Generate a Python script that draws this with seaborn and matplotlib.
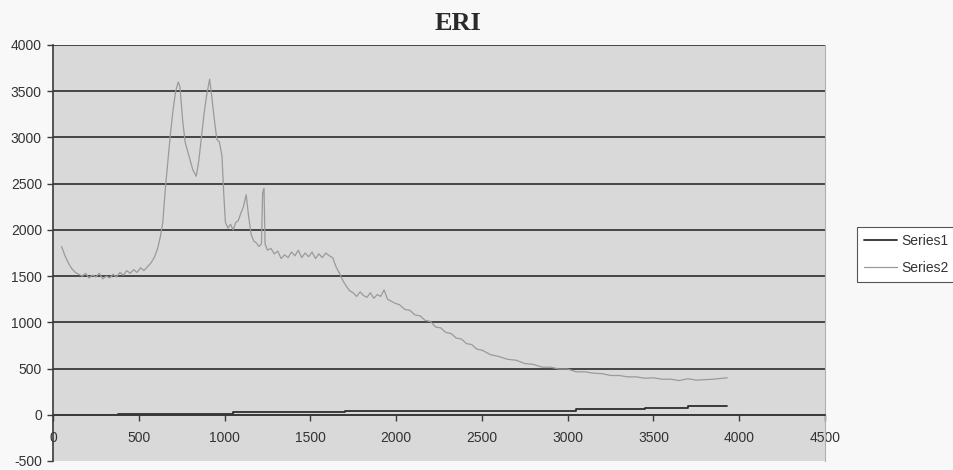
import matplotlib
matplotlib.use("Agg")
import matplotlib.pyplot as plt
import seaborn as sns
import pandas as pd

# ---- data ----
title = "ERI"
series_names = ["Series1", "Series2"]

s1_x = [380, 1050, 1700, 3050, 3450, 3700, 3930]
s1_y = [10, 25, 45, 60, 70, 100, 100]

s2_x = [50, 70, 90, 110, 130, 150, 170, 190, 210, 230, 250, 270, 290, 310, 330,
        350, 370, 390, 410, 430, 450, 470, 490, 510, 530, 550, 570, 590, 610, 625,
        640, 655, 670, 685, 700, 715, 730, 740, 755, 770, 785, 800, 815, 835, 850,
        865, 880, 895, 913, 925, 940, 955, 970, 985, 995, 1005, 1020, 1035, 1050,
        1065, 1080, 1095, 1110, 1126, 1140, 1155, 1170, 1185, 1200, 1215, 1222,
        1230, 1236, 1250, 1270, 1290, 1310, 1330, 1350, 1370, 1390, 1410, 1430,
        1450, 1470, 1490, 1510, 1530, 1550, 1570, 1590, 1610, 1630, 1650, 1670,
        1690, 1710, 1730, 1750, 1770, 1790, 1810, 1830, 1850, 1870, 1890, 1910,
        1930, 1950, 1970, 1990, 2020, 2050, 2080, 2110, 2140, 2170, 2200, 2230,
        2260, 2290, 2320, 2350, 2380, 2410, 2440, 2470, 2500, 2550, 2600, 2650,
        2700, 2750, 2800, 2850, 2900, 2950, 3000, 3050, 3100, 3150, 3200, 3250,
        3300, 3350, 3400, 3450, 3500, 3550, 3600, 3650, 3700, 3750, 3800, 3850,
        3900, 3930]
s2_y = [1820, 1720, 1640, 1580, 1540, 1520, 1500, 1530, 1480, 1510, 1490, 1530,
        1470, 1500, 1480, 1520, 1490, 1540, 1510, 1560, 1530, 1570, 1540, 1590,
        1560, 1600, 1640, 1700, 1800, 1920, 2080, 2450, 2750, 3050, 3300, 3500,
        3600, 3550, 3200, 2950, 2850, 2750, 2650, 2580, 2750, 3000, 3250, 3450,
        3630, 3450, 3200, 2980, 2950, 2800, 2400, 2080, 2020, 2060, 2000, 2080,
        2100, 2180, 2250, 2380, 2150, 1950, 1880, 1860, 1820, 1850, 2400, 2450,
        1850, 1780, 1800, 1740, 1770, 1690, 1730, 1700, 1760, 1720, 1780, 1700,
        1750, 1710, 1760, 1690, 1740, 1700, 1750, 1720, 1700, 1600, 1530, 1450,
        1390, 1340, 1320, 1280, 1330, 1290, 1270, 1320, 1260, 1300, 1280, 1350,
        1250, 1230, 1210, 1190, 1140, 1130, 1080, 1070, 1020, 1010, 950, 940,
        890, 880, 830, 820, 770, 760, 710, 700, 650, 630, 600, 590, 555, 545,
        515, 515, 495, 495, 465, 465, 450, 445, 425, 425, 410, 410, 395, 400,
        385, 385, 370, 390, 375, 380, 385, 395, 400]

x_ticks = [0, 500, 1000, 1500, 2000, 2500, 3000, 3500, 4000, 4500]
y_ticks = [-500, 0, 500, 1000, 1500, 2000, 2500, 3000, 3500, 4000]

# ---- build frames ----
df1 = pd.DataFrame({"x": s1_x, "y": s1_y})
df2 = pd.DataFrame({"x": s2_x, "y": s2_y})

sns.set_theme(style="white")
plt.rcParams["font.family"] = ["Liberation Sans", "DejaVu Sans"]

fig = plt.figure(figsize=(9.54, 4.70), dpi=100)
fig.patch.set_facecolor("#f8f8f8")
top_px, bot_px = 45, 461
ax = fig.add_axes([53 / 954, 1 - bot_px / 470, (825 - 53) / 954,
                   (bot_px - top_px) / 470])
ax.set_facecolor("#d9d9d9")

sns.lineplot(data=df2, x="x", y="y", ax=ax, color="#9a9a9a", linewidth=0.9,
             estimator=None, sort=False, label=series_names[1])
sns.lineplot(data=df1, x="x", y="y", ax=ax, color="#2e2e2e", linewidth=1.3,
             estimator=None, sort=False, drawstyle="steps-post",
             label=series_names[0])

ax.set_xlim(0, 4500)
ax.set_ylim(-500, 4000)
ax.set_xticks(x_ticks)
ax.set_yticks(y_ticks)
ax.set_xticklabels([str(v) for v in x_ticks])
ax.set_yticklabels([str(v) for v in y_ticks])
ax.set_xlabel("")
ax.set_ylabel("")

for v in y_ticks[1:]:
    ax.axhline(v, color="#3a3a3a", linewidth=1.3, zorder=0.5)

ax.spines["bottom"].set_position(("data", 0))
ax.spines["bottom"].set_color("#3a3a3a")
ax.spines["bottom"].set_linewidth(1.3)
ax.spines["left"].set_color("#3a3a3a")
ax.spines["left"].set_linewidth(1.2)
ax.spines["top"].set_visible(False)
ax.spines["right"].set_color("#b0b0b0")
ax.spines["right"].set_linewidth(0.8)

ax.tick_params(axis="x", direction="out", length=4, width=1, color="#3a3a3a",
               pad=8, labelsize=10, labelcolor="#333333", bottom=True)
ax.tick_params(axis="y", direction="out", length=4, width=1, color="#3a3a3a",
               pad=4, labelsize=10, labelcolor="#333333", left=True)

fig.text(458 / 954, 1 - 24 / 470, title, ha="center", va="center",
         fontsize=19, fontweight="bold", family="Liberation Serif",
         color="#2a2a2a")

handles, labels = ax.get_legend_handles_labels()
order = [labels.index(series_names[0]), labels.index(series_names[1])]
leg = ax.legend([handles[i] for i in order], [labels[i] for i in order],
                loc="center left", bbox_to_anchor=(857 / 954, 1 - 254.5 / 470),
                bbox_transform=fig.transFigure, frameon=True, fancybox=False,
                edgecolor="#555555", framealpha=1, facecolor="#ffffff",
                fontsize=10, handlelength=2.4, borderpad=0.5,
                labelspacing=0.9, handletextpad=0.3, borderaxespad=0)
leg.get_frame().set_linewidth(0.8)
for t in leg.get_texts():
    t.set_color("#333333")

fig.savefig("out.png", dpi=100, facecolor=fig.get_facecolor())
